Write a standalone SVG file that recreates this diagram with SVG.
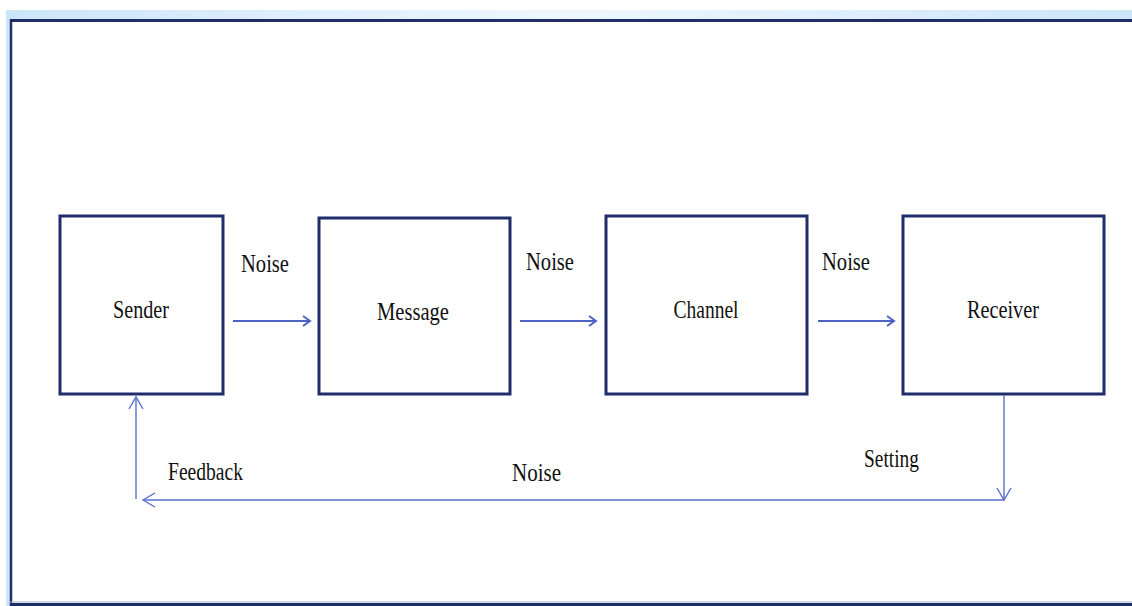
<svg xmlns="http://www.w3.org/2000/svg" width="1132" height="606" viewBox="0 0 1132 606">
  <defs>
    <linearGradient id="band" x1="0" x2="1" y1="0" y2="0">
      <stop offset="0" stop-color="#cde5f9"/>
      <stop offset="0.5" stop-color="#eef7ff"/>
      <stop offset="1" stop-color="#cde5f9"/>
    </linearGradient>
    <marker id="ah" markerWidth="12" markerHeight="14" refX="10" refY="7" orient="auto" markerUnits="userSpaceOnUse">
      <polyline points="3,2 10,7 3,12" fill="none" stroke="#4d62c4" stroke-width="2"/>
    </marker>
    <marker id="av" markerWidth="16" markerHeight="20" refX="14" refY="10" orient="auto" markerUnits="userSpaceOnUse">
      <polyline points="2,3 14,10 2,17" fill="none" stroke="#5a6fcf" stroke-width="1.4"/>
    </marker>
  </defs>
  <style>
    .box { fill: #ffffff; stroke: #1f2d6b; stroke-width: 3; }
    .lbl { font-family: "Liberation Serif", "Times New Roman", serif; font-size: 26px; fill: #111111; }
    .mid { text-anchor: middle; }
    .flow { stroke: #4d62c4; stroke-width: 1.8; fill: none; }
    .fb { stroke: #5a6fcf; stroke-width: 1.4; fill: none; }
  </style>
  <rect x="0" y="0" width="1132" height="606" fill="#ffffff"/>
  <rect x="6" y="10" width="1126" height="596" fill="url(#band)"/>
  <rect x="10" y="19" width="1122" height="587" fill="#ffffff"/>
  <line x1="10" y1="20.5" x2="1132" y2="20.5" stroke="#1f2d6b" stroke-width="3"/>
  <line x1="11" y1="19" x2="11" y2="606" stroke="#1f2d6b" stroke-width="2.5"/>
  <line x1="10" y1="602" x2="1132" y2="602" stroke="#a9b0c8" stroke-width="1"/>
  <line x1="10" y1="604.5" x2="1132" y2="604.5" stroke="#1f2d6b" stroke-width="3"/>

  <g id="sender">
    <rect class="box" x="60" y="216" width="163" height="178"/>
    <text class="lbl mid" x="141" y="318" textLength="56" lengthAdjust="spacingAndGlyphs">Sender</text>
  </g>
  <g id="message">
    <rect class="box" x="319" y="218" width="191" height="176"/>
    <text class="lbl mid" x="413" y="320" textLength="72" lengthAdjust="spacingAndGlyphs">Message</text>
  </g>
  <g id="channel">
    <rect class="box" x="606" y="216" width="201" height="178"/>
    <text class="lbl mid" x="706" y="318" textLength="65" lengthAdjust="spacingAndGlyphs">Channel</text>
  </g>
  <g id="receiver">
    <rect class="box" x="903" y="216" width="201" height="178"/>
    <text class="lbl mid" x="1003" y="318" textLength="72" lengthAdjust="spacingAndGlyphs">Receiver</text>
  </g>

  <g id="connectors">
    <line class="flow" x1="233" y1="321" x2="310" y2="321" marker-end="url(#ah)"/>
    <line class="flow" x1="520" y1="321" x2="596" y2="321" marker-end="url(#ah)"/>
    <line class="flow" x1="818" y1="321" x2="894" y2="321" marker-end="url(#ah)"/>
    <line class="fb" x1="1004" y1="395" x2="1004" y2="500" marker-end="url(#av)"/>
    <line class="fb" x1="1004" y1="500" x2="143" y2="500" marker-end="url(#av)"/>
    <line class="fb" x1="136" y1="499" x2="136" y2="397" marker-end="url(#av)"/>
  </g>

  <g id="labels">
    <text class="lbl mid" x="265" y="272" textLength="48" lengthAdjust="spacingAndGlyphs">Noise</text>
    <text class="lbl mid" x="550" y="270" textLength="48" lengthAdjust="spacingAndGlyphs">Noise</text>
    <text class="lbl mid" x="846" y="270" textLength="48" lengthAdjust="spacingAndGlyphs">Noise</text>
    <text class="lbl mid" x="205.5" y="480" textLength="75" lengthAdjust="spacingAndGlyphs">Feedback</text>
    <text class="lbl mid" x="536.5" y="481" textLength="49" lengthAdjust="spacingAndGlyphs">Noise</text>
    <text class="lbl mid" x="891.5" y="467" textLength="55" lengthAdjust="spacingAndGlyphs">Setting</text>
  </g>
</svg>
